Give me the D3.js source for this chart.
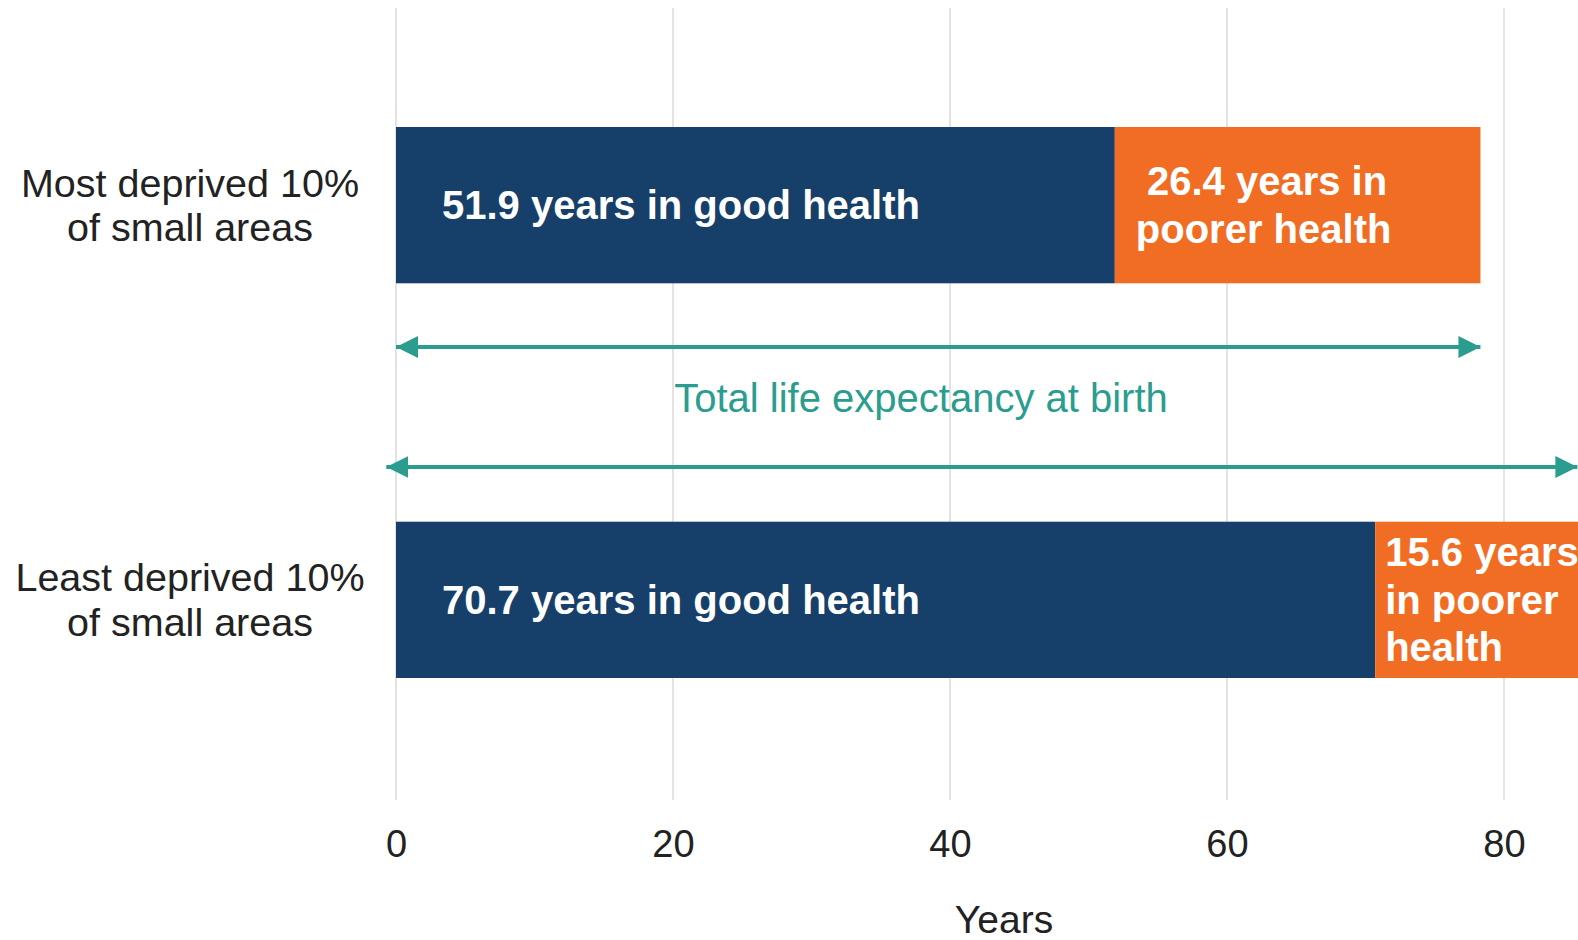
<!DOCTYPE html>
<html>
<head>
<meta charset="utf-8">
<script src="https://cdn.jsdelivr.net/npm/d3@7"></script>
<style>
  html, body { margin: 0; padding: 0; background: #fff; }
  svg { display: block; font-family: "Liberation Sans", Arial, sans-serif; }
</style>
</head>
<body>
<div id="plot"></div>
<script>
// data
const categories = ['Most deprived 10%|of small areas', 'Least deprived 10%|of small areas']
const goodHealth = [51.9, 70.7]
const poorHealth = [26.4, 15.6]
const goodLabels = ['51.9 years in good health', '70.7 years in good health']
const poorLabels = [[' 26.4 years in', 'poorer health'], ['15.6 years', 'in poorer', 'health']]
const arrowFrom = [0, -0.7]
const arrowTo = [78.3, 85.3]
const xTicks = [0, 20, 40, 60, 80]

const colGood = '#163f6a', colPoor = '#f26d24', colTeal = '#2a9d8f'
const labelPad = [21, 10]

const W = 1578, H = 940
const svg = d3.select('#plot').append('svg').attr('width', W).attr('height', H)

const x = d3.scaleLinear().domain([0, 80]).range([396, 1504])
const y = d3.scaleBand().domain(categories).range([127, 678]).paddingInner(0.604).paddingOuter(0)

// gridlines
svg.selectAll('.grid').data(xTicks).enter().append('line')
  .attr('x1', d => x(d)).attr('x2', d => x(d))
  .attr('y1', 8).attr('y2', 800)
  .attr('stroke', '#e3e3e3').attr('stroke-width', 2)

// x axis labels
const ax = svg.append('g').attr('transform', 'translate(0,823)')
  .call(d3.axisBottom(x).tickValues(xTicks).tickSize(0).tickPadding(0))
ax.select('.domain').remove()
ax.selectAll('text').attr('font-size', 38).attr('fill', '#222').attr('font-family', 'Liberation Sans, Arial, sans-serif').attr('dy', '0.9em')

svg.append('text').attr('x', 1004).attr('y', 933).attr('text-anchor', 'middle')
  .attr('font-size', 39).attr('fill', '#222').text('Years')

// bars
const rows = categories.map((c, i) => ({cat: c, good: goodHealth[i], poor: poorHealth[i], gl: goodLabels[i], pl: poorLabels[i], pad: labelPad[i]}))

svg.selectAll('.good').data(rows).enter().append('rect')
  .attr('x', x(0)).attr('y', d => y(d.cat))
  .attr('width', d => x(d.good) - x(0)).attr('height', y.bandwidth())
  .attr('fill', colGood)

svg.selectAll('.poor').data(rows).enter().append('rect')
  .attr('x', d => x(d.good)).attr('y', d => y(d.cat))
  .attr('width', d => x(d.good + d.poor) - x(d.good)).attr('height', y.bandwidth())
  .attr('fill', colPoor)

svg.selectAll('.glab').data(rows).enter().append('text')
  .attr('x', x(0) + 46).attr('y', d => y(d.cat) + y.bandwidth() / 2)
  .attr('dy', '0.35em').attr('fill', '#fff').attr('font-weight', 'bold')
  .attr('font-size', 40)
  .text(d => d.gl)

svg.selectAll('.plab').data(rows).enter().append('text')
  .attr('fill', '#fff').attr('font-weight', 'bold').attr('font-size', 40)
  .attr('xml:space', 'preserve')
  .each(function(d) {
    const n = d.pl.length, lh = 47.5
    const cy = y(d.cat) + y.bandwidth() / 2
    d3.select(this).selectAll('tspan').data(d.pl).enter().append('tspan')
      .attr('x', x(d.good) + d.pad).attr('y', (t, j) => cy + (j - (n - 1) / 2) * lh)
      .attr('dy', '0.35em').text(t => t)
  })

// category labels
svg.selectAll('.cat').data(rows).enter().append('text')
  .attr('text-anchor', 'middle').attr('font-size', 39.5).attr('fill', '#222')
  .each(function(d) {
    const lines = d.cat.split('|')
    const cy = y(d.cat) + y.bandwidth() / 2
    d3.select(this).selectAll('tspan').data(lines).enter().append('tspan')
      .attr('x', 190).attr('y', (t, j) => cy + (j - 0.5) * 44.5)
      .attr('dy', '0.35em').text(t => t)
  })

// arrows
svg.append('defs').append('marker')
  .attr('id', 'ah').attr('viewBox', '0 0 10 10').attr('refX', 10).attr('refY', 5)
  .attr('markerWidth', 5.5).attr('markerHeight', 5.5).attr('orient', 'auto-start-reverse')
  .attr('markerUnits', 'strokeWidth')
  .append('path').attr('d', 'M0,0L10,5L0,10z').attr('fill', colTeal)

const arrowY = [347, 467]
svg.selectAll('.arrow').data(arrowFrom).enter().append('line')
  .attr('x1', d => x(d)).attr('x2', (d, i) => x(arrowTo[i]))
  .attr('y1', (d, i) => arrowY[i]).attr('y2', (d, i) => arrowY[i])
  .attr('stroke', colTeal).attr('stroke-width', 4)
  .attr('marker-start', 'url(#ah)').attr('marker-end', 'url(#ah)')

svg.append('text').attr('x', 921).attr('y', 398).attr('dy', '0.35em')
  .attr('text-anchor', 'middle').attr('font-size', 40).attr('fill', colTeal)
  .text('Total life expectancy at birth')
</script>
</body>
</html>
